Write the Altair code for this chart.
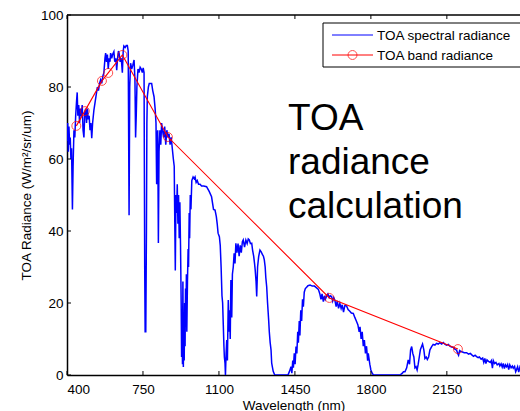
import altair as alt
import pandas as pd

# ---- data ----
wl_spec = [400, 403, 406, 409, 412, 415, 418, 421, 425, 428, 432, 436, 440, 444, 447, 450, 454, 458, 462, 466,
           470, 474, 478, 482, 486, 490, 494, 498, 502, 506, 510, 514, 518, 524, 530, 535, 540, 545, 550, 555,
           560, 565, 570, 575, 578, 582, 586, 590, 594, 598, 601, 606, 610, 616, 620, 625, 629, 633, 637, 640,
           645, 650, 655, 659, 662, 668, 673, 678, 682, 686, 689, 693, 698, 703, 709, 713, 716, 719, 722, 727,
           732, 737, 742, 747, 751, 755, 758, 760, 763, 766, 768, 770, 775, 779, 785, 790, 795, 801, 806, 810,
           813, 815, 818, 821, 824, 828, 832, 836, 840, 845, 850, 855, 860, 865, 870, 875, 880, 885, 890, 894,
           897, 899, 902, 905, 908, 911, 914, 917, 920, 923, 926, 928, 930, 932, 934, 936, 938, 940, 942, 944,
           946, 948, 950, 952, 955, 958, 960, 963, 965, 968, 971, 975, 981, 986, 990, 995, 1000, 1006, 1013, 1020,
           1030, 1043, 1055, 1066, 1075, 1082, 1088, 1092, 1096, 1102, 1106, 1110, 1114, 1117, 1120, 1123, 1125, 1128, 1130, 1133,
           1136, 1139, 1143, 1146, 1149, 1152, 1155, 1159, 1162, 1166, 1170, 1174, 1178, 1183, 1188, 1193, 1198, 1203, 1208, 1212,
           1218, 1224, 1230, 1235, 1240, 1245, 1251, 1255, 1260, 1264, 1267, 1271, 1274, 1278, 1283, 1289, 1294, 1300, 1305, 1309,
           1313, 1316, 1320, 1324, 1329, 1332, 1336, 1340, 1343, 1347, 1350, 1357, 1380, 1400, 1418, 1425, 1432, 1436, 1440, 1443,
           1447, 1451, 1455, 1459, 1463, 1466, 1470, 1473, 1477, 1481, 1485, 1489, 1493, 1498, 1504, 1510, 1520, 1530, 1540, 1550,
           1558, 1565, 1570, 1575, 1581, 1586, 1590, 1596, 1602, 1608, 1613, 1619, 1624, 1629, 1634, 1640, 1645, 1651, 1657, 1663,
           1668, 1674, 1680, 1688, 1695, 1702, 1710, 1719, 1726, 1733, 1740, 1746, 1750, 1755, 1760, 1765, 1770, 1775, 1780, 1785,
           1788, 1795, 1800, 1806, 1812, 1850, 1900, 1934, 1945, 1950, 1957, 1965, 1972, 1978, 1983, 1988, 1993, 1998, 2003, 2008,
           2013, 2018, 2023, 2028, 2034, 2038, 2044, 2049, 2055, 2060, 2066, 2072, 2080, 2087, 2095, 2103, 2110, 2118, 2126, 2134,
           2142, 2149, 2157, 2164, 2172, 2179, 2187, 2195, 2200, 2204, 2209, 2215, 2222, 2230, 2241, 2250, 2258, 2265, 2273, 2280,
           2287, 2294, 2300, 2308, 2315, 2320, 2325, 2330, 2335, 2342, 2350, 2355, 2360, 2364, 2370, 2376, 2382, 2390, 2394, 2400,
           2405, 2410, 2415, 2420, 2425, 2430, 2435, 2440, 2446, 2452, 2456, 2462, 2467, 2471, 2476, 2481, 2487, 2495]
rad_spec = [65, 70, 62, 69, 64, 66, 60, 63, 46, 58, 68, 66, 72, 76, 78.5, 72, 75, 70, 74, 72,
            75, 68, 66, 73, 74, 70, 74, 71, 72, 68, 70, 65.8, 70, 73.6, 76, 78, 80, 79, 81, 82,
            81, 83, 84, 88, 89.4, 87, 89, 85, 88, 87, 89.4, 88, 89, 89.8, 87, 88, 84.7, 88, 90, 89.4,
            87, 88, 84, 90, 91.4, 91, 91.5, 91.5, 90, 44.4, 80, 86.6, 85, 86, 87.5, 82, 66, 72, 80, 85,
            84, 85.5, 85, 84, 85.3, 84, 30, 12, 12, 40, 70, 77.3, 80, 81, 81, 81, 79, 77.3, 74, 70,
            53, 66, 68, 36.7, 62, 68, 64, 70, 68, 66, 69, 64, 68, 66, 67, 64, 66, 63, 60, 58,
            40, 29, 50, 45, 53, 42, 50, 38, 48, 36, 20, 5, 18, 3, 26, 2.2, 12, 4, 20, 8,
            24, 14, 28, 12, 26, 35, 30, 45, 38, 50, 46, 54, 55, 54.5, 55, 53.5, 54, 53, 53, 52.5,
            52.5, 52.3, 51, 49.5, 46, 45.8, 44, 42, 39.4, 38.4, 36, 30, 22, 20, 14, 8, 5, 3.3, 0, 6,
            9.7, 4, 20.8, 12, 18, 10, 26.4, 16, 28, 30, 33.8, 31, 36.6, 34, 36.5, 33, 36, 34, 37, 37.5,
            35.5, 37.5, 36.5, 37.8, 37.5, 36.5, 36.6, 34.7, 33, 31, 29.2, 26, 21.8, 30, 32.9, 34.7, 34.3, 33.5, 33, 32,
            30, 27, 24.5, 20, 15.3, 12, 9, 7, 3.3, 2, 1, 0, 0, 0, 0, 1, 2.3, 0.5, 4, 2,
            6, 3, 7.9, 6, 12, 9, 15, 11, 18, 15, 21, 19, 23, 24, 24.4, 24.8, 25, 24.7, 24.7, 24.2,
            23.8, 22.5, 21, 22.5, 20.4, 22, 21, 21.9, 22.5, 21.5, 22, 21.8, 20.5, 21.5, 20.8, 19, 20.6, 18.5, 19.9, 18.5,
            19.5, 17.5, 19.3, 19.2, 18.2, 17.8, 17.2, 17.1, 16, 15, 14, 12, 13.4, 10, 12, 8, 9.7, 6, 8, 4,
            6, 3, 1.4, 0.5, 0, 0, 0, 0, 0.5, 0.9, 0.9, 2, 4.2, 3, 7, 7.9, 6, 5, 2, 2.3,
            1.4, 3, 5, 7, 8, 8.6, 7, 4.6, 5, 4.3, 5, 7, 7.9, 8.5, 8.3, 8.8, 8.6, 9, 8.6, 9,
            8.5, 8.3, 8.5, 8, 7.8, 7.7, 7.2, 6.9, 6, 5.5, 6.8, 6.5, 6.4, 6.2, 6.2, 5.8, 6, 5.6, 5.2, 5.5,
            5.1, 4.8, 5, 4.4, 4.7, 3.5, 4.6, 3.2, 4.2, 3.8, 3.5, 4, 1.9, 4, 3.2, 3.5, 2.8, 3.2, 2.5, 3.1,
            2.2, 3.2, 1.8, 2.8, 2.3, 2.9, 1.5, 2.8, 2, 2.5, 1.9, 2.4, 0.9, 1.5, 2.3, 0.8, 2.3, 1.4]

wl_band = [443, 482, 561, 590, 655, 865, 1609, 2201]
rad_band = [69.2, 73.3, 81.7, 83.9, 88.9, 66.1, 21.4, 7.2]

x_ticks = [400, 750, 1100, 1450, 1800, 2150]
y_ticks = [0, 20, 40, 60, 80, 100]

legend_labels = ["TOA spectral radiance", "TOA band radiance"]
annotation = ["TOA", "radiance", "calculation"]

# ---- layout ----
W, H = 453, 360
FONT = "Liberation Sans"
FS = 13.5

spec_df = pd.DataFrame({"wl": wl_spec, "rad": rad_spec})
band_df = pd.DataFrame({"wl": wl_band, "rad": rad_band})
xt_df = pd.DataFrame({"wl": x_ticks})
yt_df = pd.DataFrame({"rad": y_ticks})
one = pd.DataFrame({"k": [0]})

xscale = alt.Scale(domain=[400, 2487], nice=False, zero=False)
yscale = alt.Scale(domain=[0, 100], nice=False, zero=False)
xaxis = alt.Axis(values=x_ticks, format="d", ticks=False, tickSize=0, grid=False, labelPadding=7,
                 domainColor="black", domainWidth=1.5, titleY=34.5, titleBaseline="alphabetic",
                 labelFont=FONT, labelFontSize=FS, labelColor="black",
                 titleFont=FONT, titleFontSize=FS, titleFontWeight="normal", titleColor="black")
yaxis = alt.Axis(values=y_ticks, format="d", ticks=False, tickSize=0, grid=False, labelPadding=4,
                 domainColor="black", domainWidth=1.5, titleX=-37, titleY=180,
                 titleAngle=270, titleBaseline="alphabetic", titleAlign="center",
                 labelFont=FONT, labelFontSize=FS, labelColor="black",
                 titleFont=FONT, titleFontSize=FS, titleFontWeight="normal", titleColor="black")
X = alt.X("wl:Q", scale=xscale, axis=xaxis, title="Wavelength (nm)")
Y = alt.Y("rad:Q", scale=yscale, axis=yaxis, title="TOA Radiance (W/m²/sr/um)")

spec = alt.Chart(spec_df).mark_line(color="#0000ff", strokeWidth=1.5, clip=True).encode(x=X, y=Y)
band_line = alt.Chart(band_df).mark_line(color="#ff0000", strokeWidth=1.1).encode(x=X, y=Y)
band_pts = alt.Chart(band_df).mark_point(shape="circle", size=80, color="#ff0000",
                                         filled=False, strokeWidth=1).encode(x=X, y=Y)

xt_bottom = alt.Chart(xt_df).mark_rule(color="black", strokeWidth=1).encode(
    x=X, y=alt.value(H), y2=alt.value(H - 4))
xt_top = alt.Chart(xt_df).mark_rule(color="black", strokeWidth=1).encode(
    x=X, y=alt.value(0), y2=alt.value(4))
yt_left = alt.Chart(yt_df).mark_rule(color="black", strokeWidth=1).encode(
    y=Y, x=alt.value(0), x2=alt.value(4))
top_border = alt.Chart(one).mark_rule(color="black", strokeWidth=1.5).encode(
    x=alt.value(0), x2=alt.value(W), y=alt.value(0))

# legend
leg_box = alt.Chart(one).mark_rect(fill="white", stroke="black", strokeWidth=1).encode(
    x=alt.value(256), x2=alt.value(460), y=alt.value(8), y2=alt.value(52))
leg_l1 = alt.Chart(one).mark_rule(color="#0000ff", strokeWidth=1).encode(
    x=alt.value(265), x2=alt.value(306), y=alt.value(20))
leg_l2 = alt.Chart(one).mark_rule(color="#ff0000", strokeWidth=1).encode(
    x=alt.value(265), x2=alt.value(306), y=alt.value(40))
leg_p2 = alt.Chart(one).mark_point(shape="circle", size=80, color="#ff0000", filled=False,
                                   strokeWidth=1).encode(x=alt.value(285.5), y=alt.value(40))
leg_t1 = alt.Chart(one).mark_text(text=legend_labels[0], align="left", baseline="middle",
                                  font=FONT, fontSize=FS, color="black").encode(
    x=alt.value(310), y=alt.value(20.5))
leg_t2 = alt.Chart(one).mark_text(text=legend_labels[1], align="left", baseline="middle",
                                  font=FONT, fontSize=FS, color="black").encode(
    x=alt.value(310), y=alt.value(40.5))

note = alt.Chart(one).mark_text(text=annotation, align="left", baseline="alphabetic",
                                font=FONT, fontSize=37, lineHeight=44, color="black").encode(
    x=alt.value(221), y=alt.value(115))

chart = alt.layer(
    spec, band_line, band_pts, xt_bottom, xt_top, yt_left, top_border,
    leg_box, leg_l1, leg_l2, leg_p2, leg_t1, leg_t2, note
).properties(
    width=W, height=H, autosize="none", background="white",
    padding={"left": 67, "top": 15, "right": 0, "bottom": 36}
).configure_view(strokeWidth=0)

chart.save("out.html", embed_options={"renderer": "svg", "actions": False})
